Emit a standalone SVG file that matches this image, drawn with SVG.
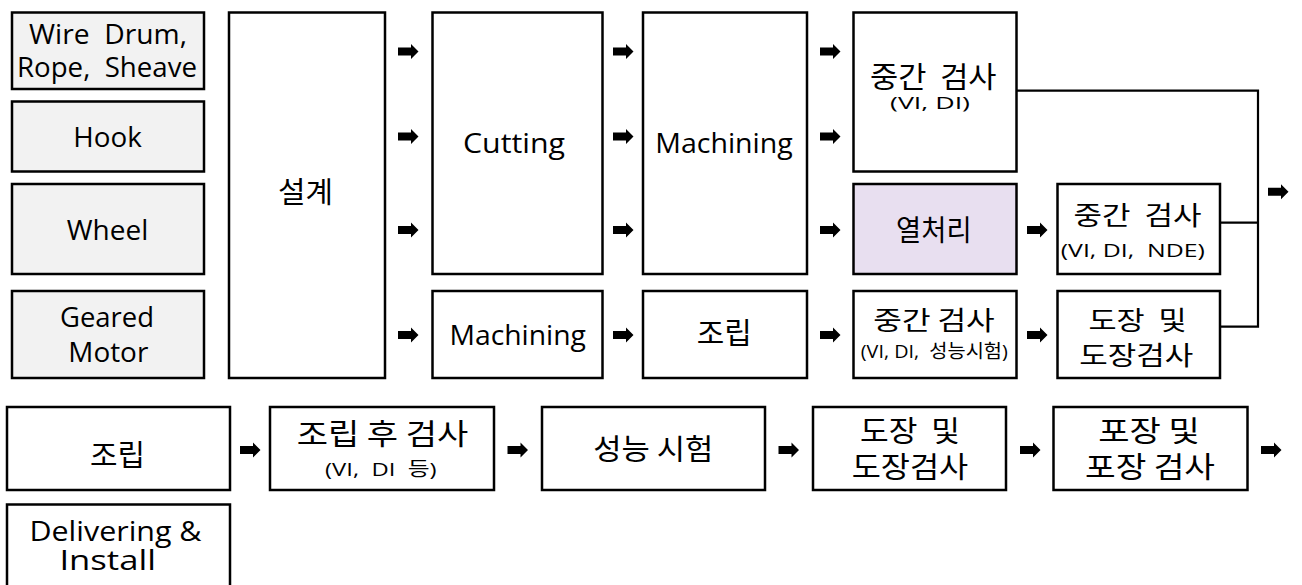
<svg xmlns="http://www.w3.org/2000/svg" xmlns:xlink="http://www.w3.org/1999/xlink" width="1302" height="585" viewBox="0 0 1302 585">
<defs>
<style>
.box{fill:#ffffff;stroke:#000;stroke-width:2.5}
.part{fill:#f2f2f2;stroke:#000;stroke-width:2.5}
.heat{fill:#e8dff0;stroke:#000;stroke-width:2.5}
text{white-space:pre;fill:#000;text-anchor:middle}
.t{font-family:"Open Sans","Noto Sans CJK KR",sans-serif;font-size:28px}
.k{font-family:"Noto Sans CJK KR","Open Sans",sans-serif;font-size:29px}
.ks{font-family:"Noto Sans CJK KR","Open Sans",sans-serif;font-size:26px}
.s{font-family:"Open Sans","Noto Sans CJK KR",sans-serif;font-size:17px}
.s2{font-family:"Open Sans","Noto Sans CJK KR",sans-serif;font-size:19px}
.line{fill:none;stroke:#000;stroke-width:2.2}
</style>
<path id="arr" d="M0,-4 H13 V-7.5 L20.5,0 L13,7.5 V4 H0 Z" fill="#000"/>
</defs>
<rect width="1302" height="585" fill="#fff"/>

<g id="n-wire"><rect class="part" x="12" y="12.5" width="192" height="76.5"/><text class="t" x="108" y="44" textLength="158" lengthAdjust="spacingAndGlyphs">Wire  Drum,</text><text class="t" x="107" y="77" textLength="180" lengthAdjust="spacingAndGlyphs">Rope,  Sheave</text></g>
<g id="n-hook"><rect class="part" x="12" y="101.5" width="192" height="70"/><text class="t" x="107.5" y="146.5" textLength="68.5" lengthAdjust="spacingAndGlyphs">Hook</text></g>
<g id="n-wheel"><rect class="part" x="12" y="184" width="192" height="90"/><text class="t" x="107.5" y="240" textLength="81.5" lengthAdjust="spacingAndGlyphs">Wheel</text></g>
<g id="n-motor"><rect class="part" x="12" y="291" width="192" height="87"/><text class="t" x="107" y="326.5" textLength="94" lengthAdjust="spacingAndGlyphs">Geared</text><text class="t" x="108.3" y="361.5" textLength="80" lengthAdjust="spacingAndGlyphs">Motor</text></g>

<g id="n-design"><rect class="box" x="229" y="12.5" width="156" height="365.5"/><text class="k" x="305.5" y="203" textLength="55" lengthAdjust="spacingAndGlyphs">설계</text></g>
<g id="n-cutting"><rect class="box" x="432.5" y="12.5" width="170" height="261.5"/><text class="t" x="514" y="153" textLength="102" lengthAdjust="spacingAndGlyphs">Cutting</text></g>
<g id="n-machining1"><rect class="box" x="643" y="12.5" width="164" height="261.5"/><text class="t" x="724" y="153" textLength="137.5" lengthAdjust="spacingAndGlyphs">Machining</text></g>
<g id="n-machining2"><rect class="box" x="432.5" y="291" width="170" height="87"/><text class="t" x="517.7" y="345" textLength="136.5" lengthAdjust="spacingAndGlyphs">Machining</text></g>
<g id="n-assy1"><rect class="box" x="643" y="291" width="164" height="87"/><text class="k" x="724.2" y="344" textLength="55" lengthAdjust="spacingAndGlyphs">조립</text></g>

<g id="n-insp1"><rect class="box" x="853.5" y="12.5" width="163" height="159"/><text class="k" x="933.3" y="87.5" textLength="126.5" lengthAdjust="spacingAndGlyphs">중간  검사</text><text class="s" x="930" y="108.5" textLength="80" lengthAdjust="spacingAndGlyphs">(VI, DI)</text></g>
<g id="n-heat"><rect class="heat" x="853.5" y="184" width="163" height="90"/><text class="k" x="933.8" y="241" textLength="75.5" lengthAdjust="spacingAndGlyphs">열처리</text></g>
<g id="n-insp2"><rect class="box" x="1057.5" y="184" width="162.5" height="90"/><text class="ks" x="1137.5" y="225" textLength="128" lengthAdjust="spacingAndGlyphs">중간  검사</text><text class="s2" x="1132.8" y="256.5" textLength="144" lengthAdjust="spacingAndGlyphs">(VI, DI,  NDE)</text></g>
<g id="n-insp3"><rect class="box" x="853.5" y="291" width="163" height="87"/><text class="ks" x="934" y="330" textLength="121.5" lengthAdjust="spacingAndGlyphs">중간 검사</text><text class="s2" x="934.3" y="358" textLength="147" lengthAdjust="spacingAndGlyphs">(VI, DI,  성능시험)</text></g>
<g id="n-paint1"><rect class="box" x="1057.5" y="291" width="162.5" height="87"/><text class="ks" x="1137.5" y="330" textLength="98" lengthAdjust="spacingAndGlyphs">도장  및</text><text class="ks" x="1136.3" y="365" textLength="114" lengthAdjust="spacingAndGlyphs">도장검사</text></g>

<g id="n-assy2"><rect class="box" x="7" y="407" width="223" height="83"/><text class="k" x="117.5" y="466" textLength="55" lengthAdjust="spacingAndGlyphs">조립</text></g>
<g id="n-assyinsp"><rect class="box" x="270" y="407" width="224" height="83"/><text class="k" x="382.5" y="445" textLength="171.5" lengthAdjust="spacingAndGlyphs">조립 후 검사</text><text class="s2" x="380.8" y="476" textLength="111.5" lengthAdjust="spacingAndGlyphs">(VI,  DI  등)</text></g>
<g id="n-perf"><rect class="box" x="542" y="407" width="223" height="83"/><text class="k" x="653.3" y="460" textLength="120" lengthAdjust="spacingAndGlyphs">성능 시험</text></g>
<g id="n-paint2"><rect class="box" x="813" y="407" width="193" height="83"/><text class="k" x="910" y="442" textLength="100" lengthAdjust="spacingAndGlyphs">도장  및</text><text class="k" x="910" y="478" textLength="116.5" lengthAdjust="spacingAndGlyphs">도장검사</text></g>
<g id="n-pack"><rect class="box" x="1053.5" y="407" width="194" height="83"/><text class="k" x="1149" y="442" textLength="101.5" lengthAdjust="spacingAndGlyphs">포장 및</text><text class="k" x="1150" y="478" textLength="130" lengthAdjust="spacingAndGlyphs">포장 검사</text></g>
<g id="n-deliver"><rect class="box" x="7" y="504.5" width="223" height="90"/><text class="t" x="115.5" y="540.5" textLength="172" lengthAdjust="spacingAndGlyphs">Delivering &amp;</text><text class="t" x="107.7" y="570" textLength="96.5" lengthAdjust="spacingAndGlyphs">Install</text></g>

<g id="connectors">
<polyline class="line" points="1016.5,90.7 1258,90.7 1258,326.7 1220,326.7"/>
<line class="line" x1="1220" y1="222.7" x2="1258" y2="222.7"/>
<use xlink:href="#arr" x="398" y="51.5"/>
<use xlink:href="#arr" x="398" y="136.5"/>
<use xlink:href="#arr" x="398" y="230"/>
<use xlink:href="#arr" x="398" y="335"/>
<use xlink:href="#arr" x="613" y="51.5"/>
<use xlink:href="#arr" x="613" y="136.5"/>
<use xlink:href="#arr" x="613" y="230"/>
<use xlink:href="#arr" x="613" y="335"/>
<use xlink:href="#arr" x="820" y="51.5"/>
<use xlink:href="#arr" x="820" y="136.5"/>
<use xlink:href="#arr" x="820" y="230"/>
<use xlink:href="#arr" x="820" y="335"/>
<use xlink:href="#arr" x="1027" y="230"/>
<use xlink:href="#arr" x="1027" y="335"/>
<use xlink:href="#arr" x="1268" y="191.7"/>
<use xlink:href="#arr" x="240" y="450"/>
<use xlink:href="#arr" x="507.5" y="450"/>
<use xlink:href="#arr" x="778.5" y="450"/>
<use xlink:href="#arr" x="1020" y="450"/>
<use xlink:href="#arr" x="1261" y="450"/>
</g>
</svg>
